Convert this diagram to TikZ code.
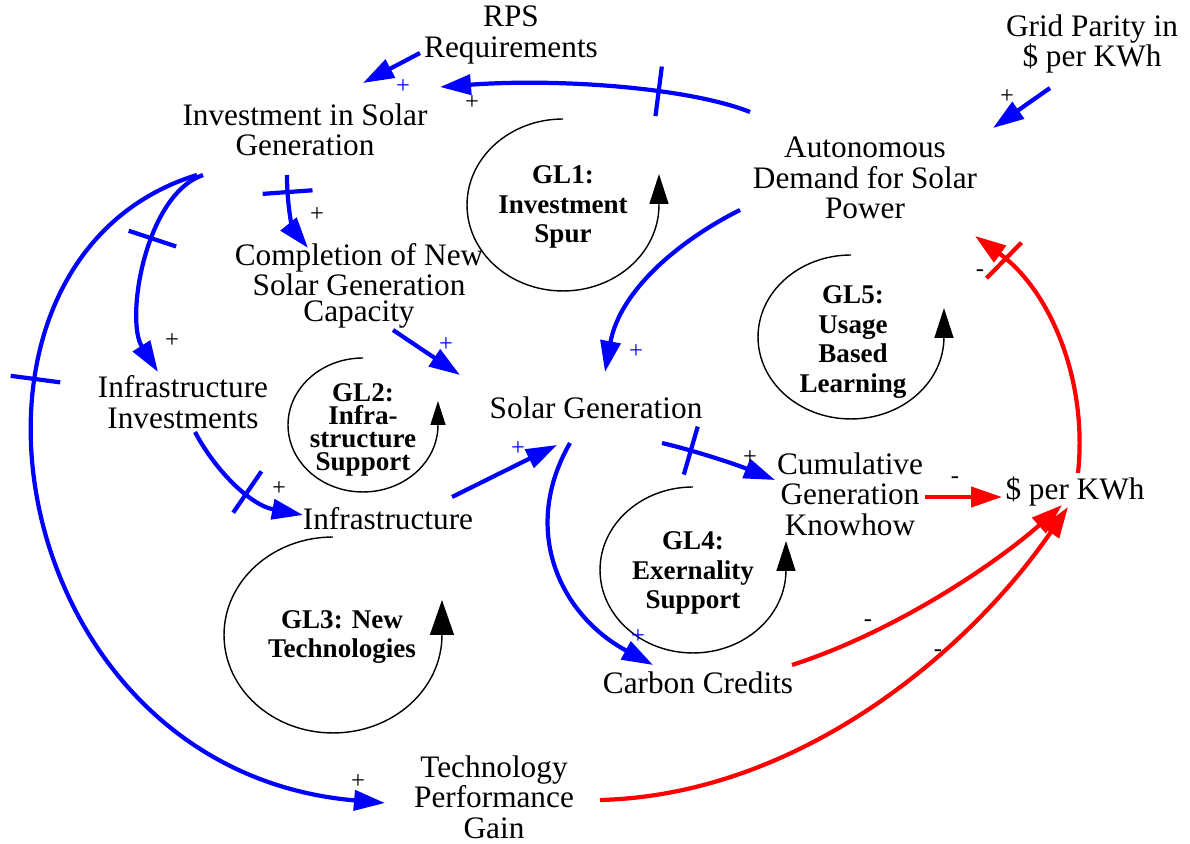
\documentclass[tikz,border=0pt]{standalone}
\usepackage{fontspec}
\setmainfont{Liberation Serif}
\usetikzlibrary{arrows.meta,decorations.markings}

\newcommand{\varfont}{\fontsize{17.8}{17.3}\selectfont}
\newcommand{\loopfont}{\fontsize{15.4}{16.8}\selectfont\bfseries}
\newcommand{\signfont}{\fontsize{14}{14}\selectfont}

\tikzset{
  cvar/.style={align=center, inner sep=0pt, font=\varfont},
  gl/.style={align=center, inner sep=0pt, font=\loopfont},
  sgn/.style={inner sep=0pt, font=\signfont},
  poslink/.style={blue, line width=2.4pt, -{Triangle[length=0.62cm,width=0.4cm]}},
  neglink/.style={red, line width=2.4pt, -{Triangle[length=0.62cm,width=0.4cm]}},
  delaymark/.style={postaction={decorate, decoration={markings,
      mark=at position #1 with {\draw[-, line width=2.4pt] (0,-0.5cm) -- (0,0.5cm);}}}},
  cyc/.style={line width=0.8pt, -{Triangle[#1]}},
  cyc/.default={length=0.6cm,width=0.38cm},
}

\begin{document}
\begin{tikzpicture}[x=0.02cm, y=-0.02cm]
  \useasboundingbox (0,0) rectangle (1190,844);

  % variables
  \node[cvar] (rps) at (511,35) {RPS\\Requirements};
  \node[cvar] (inv) at (305,130) {Investment in Solar\\Generation};
  \node[cvar] (grid) at (1092,44) {Grid Parity in\\\$ per KWh};
  \node[cvar] (auto) at (865,178) {Autonomous\\Demand for Solar\\Power};
  \node[cvar, font=\fontsize{17.8}{14.5}\selectfont] (comp) at (359,286) {Completion of New\\Solar Generation\\Capacity};
  \node[cvar] (infinv) at (183,402) {Infrastructure\\Investments};
  \node[cvar] (solar) at (596,408) {Solar Generation};
  \node[cvar] (infra) at (388,519) {Infrastructure};
  \node[cvar] (cum) at (850,494) {Cumulative\\Generation\\Knowhow};
  \node[cvar] (kwh) at (1075,492) {\$ per KWh};
  \node[cvar] (carbon) at (698,683) {Carbon Credits};
  \node[cvar] (tech) at (494,797) {Technology\\Performance\\Gain};

  % loops
  \draw[cyc] (563,119) arc[start angle=90, end angle=360, x radius=1.92cm, y radius=1.72cm] -- ++(0,-31);
  \draw[cyc={length=0.48cm,width=0.3cm}] (363,358) arc[start angle=90, end angle=360, x radius=1.5cm, y radius=1.34cm] -- ++(0,-24);
  \draw[cyc={length=0.7cm,width=0.48cm}] (333,537) arc[start angle=90, end angle=360, x radius=2.18cm, y radius=1.96cm] -- ++(0,-35);
  \draw[cyc] (693,487) arc[start angle=90, end angle=360, x radius=1.86cm, y radius=1.66cm] -- ++(0,-29);
  \draw[cyc] (851,255) arc[start angle=90, end angle=360, x radius=1.86cm, y radius=1.64cm] -- ++(0,-29);

  \node[gl] (gl1) at (563,207) {GL1:\\Investment\\Spur};
  \node[gl, font=\fontsize{15.4}{13}\selectfont\bfseries] (gl2) at (363,430) {GL2:\\Infra-\\structure\\Support};
  \node[gl] (gl3) at (342,637) {GL3: New\\Technologies};
  \node[gl] (gl4) at (693,573) {GL4:\\Exernality\\Support};
  \node[gl] (gl5) at (853,342) {GL5:\\Usage\\Based\\Learning};

  % positive links
  \draw[poslink] ([shift={(-91,18)}]rps.center) -- ([shift={(58,-47)}]inv.center);
  \draw[poslink, delaymark=0.3] ([shift={(-115,-66)}]auto.center) .. controls (690,88) and (560,78) .. ([shift={(135,-43)}]inv.center);
  \draw[poslink] ([shift={(-42,44)}]grid.center) -- ([shift={(128,-50)}]auto.center);
  \draw[poslink, delaymark=0.22] ([shift={(-18,45)}]inv.center) .. controls (287,215) and (295,232) .. ([shift={(-51,-38)}]comp.center);
  \draw[poslink, delaymark=0.38] ([shift={(-102,45)}]inv.center) .. controls (145,195) and (125,320) .. ([shift={(-25,-30)}]infinv.center);
  \draw[poslink, delaymark=0.31] ([shift={(-108,45)}]inv.center) .. controls (-80,260) and (0,770) .. ([shift={(-109,6)}]tech.center);
  \draw[poslink] ([shift={(34,44)}]comp.center) -- ([shift={(-136,-33)}]solar.center);
  \draw[poslink] ([shift={(-125,32)}]auto.center) .. controls (680,240) and (620,290) .. ([shift={(9,-36)}]solar.center);
  \draw[poslink, delaymark=0.57] ([shift={(12,30)}]infinv.center) .. controls (215,470) and (250,505) .. ([shift={(-85,-4)}]infra.center);
  \draw[poslink] ([shift={(64,-22)}]infra.center) -- ([shift={(-39,37)}]solar.center);
  \draw[poslink] ([shift={(-26,35)}]solar.center) .. controls (520,530) and (560,615) .. ([shift={(-45,-18)}]carbon.center);
  \draw[poslink, delaymark=0.25] ([shift={(66,35)}]solar.center) .. controls (700,452) and (740,466) .. ([shift={(-75,-14)}]cum.center);

  % negative links
  \draw[neglink] ([shift={(75,3)}]cum.center) -- ([shift={(-73,5)}]kwh.center);
  \draw[neglink, delaymark=0.86] ([shift={(3,-19)}]kwh.center) .. controls (1088,380) and (1050,290) .. ([shift={(110,58)}]auto.center);
  \draw[neglink] ([shift={(94,-18)}]carbon.center) .. controls (900,630) and (1000,560) .. ([shift={(-13,13)}]kwh.center);
  \draw[neglink] ([shift={(106,3)}]tech.center) .. controls (800,795) and (970,650) .. ([shift={(-7,15)}]kwh.center);

  % polarity signs
  \foreach \n/\x/\y in {1/403/87, 7/446/345, 8/636/352, 10/518/449, 11/638/637}
    \node[sgn, blue] (s\n) at (\x,\y) {+};
  \foreach \n/\x/\y/\t in {2/472/103/+, 3/1007/97/+, 4/317/215/+, 5/172/341/+, 6/358/782/+,
      9/279/489/+, 12/750/458/+, 13/955/480/-, 14/980/273/-, 15/868/623/-, 16/938/653/-}
    \node[sgn] (s\n) at (\x,\y) {\t};
\end{tikzpicture}
\end{document}
